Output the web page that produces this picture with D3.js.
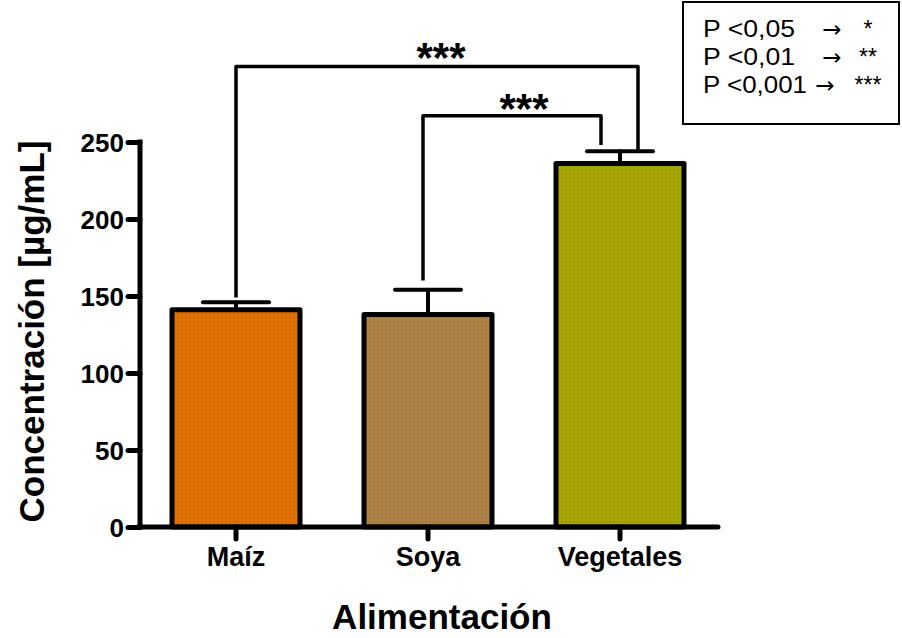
<!DOCTYPE html>
<html>
<head>
<meta charset="utf-8">
<script src="https://cdn.jsdelivr.net/npm/d3@7"></script>
<style>
  body { margin: 0; background: #fff; }
  svg { display: block; font-family: "Liberation Sans", Arial, sans-serif; }
</style>
</head>
<body>
<div id="chart"></div>
<script>
// data
const categories = ["Maíz", "Soya", "Vegetales"];
const means = [141, 138, 236];
const sems = [5, 16, 8];
const barColors = ["#e27200", "#ad8346", "#a8a600"];
const yTicks = [0, 50, 100, 150, 200, 250];

// significance brackets: [from category, to category, top value, left foot, right foot, label]
const bracketFrom = ["Maíz", "Soya"];
const bracketTo = ["Vegetales", "Vegetales"];
const bracketTop = [299, 267];
const bracketLeftEnd = [149, 160];
const bracketRightEnd = [245, 248];
const bracketLabels = ["***", "***"];

const legendLines = ["P <0,05", "P <0,01", "P <0,001"];
const legendStars = ["*", "**", "***"];

const width = 902, height = 638;

const svg = d3.select("#chart").append("svg")
  .attr("width", width).attr("height", height)
  .attr("viewBox", [0, 0, width, height]);

const x = d3.scaleBand()
  .domain(categories)
  .range([140, 716])
  .paddingInner(1 / 3)
  .paddingOuter(1 / 6);

const y = d3.scaleLinear()
  .domain([0, 250])
  .range([527, 142]);

// dotted texture for the bars
const defs = svg.append("defs");
barColors.forEach((c, i) => {
  const p = defs.append("pattern")
    .attr("id", "tex" + i)
    .attr("width", 4).attr("height", 4)
    .attr("patternUnits", "userSpaceOnUse");
  p.append("rect").attr("width", 4).attr("height", 4).attr("fill", c);
  p.append("circle").attr("cx", 2).attr("cy", 2).attr("r", 0.9)
    .attr("fill", d3.rgb(c).darker(0.35));
});

// bars
svg.append("g")
  .selectAll("rect")
  .data(categories)
  .join("rect")
  .attr("x", d => x(d))
  .attr("y", (d, i) => y(means[i]))
  .attr("width", x.bandwidth())
  .attr("height", (d, i) => y(0) - y(means[i]))
  .attr("fill", (d, i) => `url(#tex${i})`)
  .attr("stroke", "#000")
  .attr("stroke-width", 5)
  .attr("stroke-linejoin", "round");

// error bars (upper only)
const err = svg.append("g")
  .attr("stroke", "#000")
  .attr("stroke-width", 4)
  .attr("stroke-linecap", "round");

categories.forEach((c, i) => {
  const cx = x(c) + x.bandwidth() / 2;
  err.append("line")
    .attr("x1", cx).attr("x2", cx)
    .attr("y1", y(means[i])).attr("y2", y(means[i] + sems[i]));
  err.append("line")
    .attr("x1", cx - 33).attr("x2", cx + 33)
    .attr("y1", y(means[i] + sems[i])).attr("y2", y(means[i] + sems[i]));
});

// y axis
const yAxis = svg.append("g")
  .attr("transform", "translate(140,0)")
  .call(d3.axisLeft(y).tickValues(yTicks).tickSize(12).tickPadding(4));
yAxis.select(".domain").attr("d", `M0,${y(250)}V${y(0)}`)
  .attr("stroke-width", 5).attr("stroke-linecap", "square");
yAxis.selectAll(".tick line").attr("stroke-width", 5).attr("stroke-linecap", "round");
yAxis.selectAll(".tick text")
  .attr("font-size", 26).attr("font-weight", "bold")
  .attr("font-family", "Liberation Sans, Arial, sans-serif")
  .attr("fill", "#000").attr("dy", "0.36em");

// x axis
const xAxis = svg.append("g")
  .attr("transform", `translate(0,${y(0)})`)
  .call(d3.axisBottom(x).tickSize(12).tickPadding(8));
xAxis.select(".domain").attr("d", "M138,0H718")
  .attr("stroke-width", 5).attr("stroke-linecap", "round");
xAxis.selectAll(".tick line").attr("stroke-width", 5).attr("stroke-linecap", "round");
xAxis.selectAll(".tick text")
  .attr("font-size", 27).attr("font-weight", "bold")
  .attr("font-family", "Liberation Sans, Arial, sans-serif")
  .attr("fill", "#000");

// axis titles
svg.append("text")
  .attr("transform", `translate(44,${(y(0) + y(250)) / 2 - 3}) rotate(-90)`)
  .attr("text-anchor", "middle")
  .attr("font-size", 35).attr("font-weight", "bold")
  .text("Concentración [µg/mL]");

svg.append("text")
  .attr("x", 442).attr("y", 629)
  .attr("text-anchor", "middle")
  .attr("font-size", 35).attr("font-weight", "bold")
  .text("Alimentación");

// significance brackets
const br = svg.append("g");
bracketFrom.forEach((from, i) => {
  const x1 = x(from) + x.bandwidth() / 2 + (i === 0 ? 0 : -5);
  const x2 = x(bracketTo[i]) + x.bandwidth() / 2 + (i === 0 ? 18 : -19);
  const yt = y(bracketTop[i]);
  br.append("path")
    .attr("d", `M${x1},${y(bracketLeftEnd[i])}V${yt}H${x2}V${y(bracketRightEnd[i])}`)
    .attr("fill", "none")
    .attr("stroke", "#000")
    .attr("stroke-width", 3.5)
    .attr("stroke-linejoin", "round");
  br.append("text")
    .attr("x", (x1 + x2) / 2 + (i === 0 ? 4 : 12))
    .attr("y", yt + (i === 0 ? 5 : 7))
    .attr("text-anchor", "middle")
    .attr("font-size", 42).attr("font-weight", "bold")
    .text(bracketLabels[i]);
});

// legend box
const lg = svg.append("g");
lg.append("rect")
  .attr("x", 683).attr("y", 2)
  .attr("width", 216).attr("height", 122)
  .attr("fill", "#fff")
  .attr("stroke", "#000").attr("stroke-width", 2);

const legendWidths = [92, 92, 104];
legendLines.forEach((t, i) => {
  const by = 37 + i * 28;
  lg.append("text")
    .attr("x", 703).attr("y", by)
    .attr("font-size", 23)
    .attr("textLength", legendWidths[i])
    .attr("lengthAdjust", "spacingAndGlyphs")
    .text(t);
  lg.append("text")
    .attr("x", i === 2 ? 825 : 832).attr("y", by)
    .attr("text-anchor", "middle")
    .attr("font-size", 23)
    .attr("font-family", "DejaVu Sans, sans-serif")
    .text("→");
  lg.append("text")
    .attr("x", 868).attr("y", by)
    .attr("text-anchor", "middle")
    .attr("font-size", 23)
    .text(legendStars[i]);
});
</script>
</body>
</html>
